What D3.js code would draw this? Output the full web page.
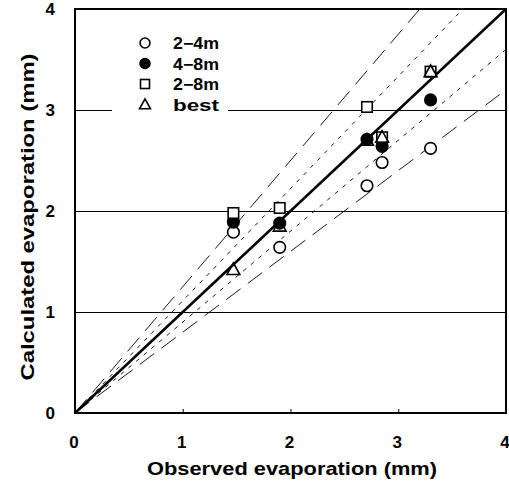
<!DOCTYPE html>
<html lang="en">
<head>
    <meta charset="UTF-8">
    <title>Evaporation</title>
    <style>
        body { margin: 0; background: #fff; }
        text { font-family: "Liberation Sans", Arial, sans-serif; font-weight: bold; fill: #000; }
    </style>
</head>
<body>
    <svg width="509" height="484"></svg>
    <script src="https://d3js.org/d3.v7.min.js"></script>
    <script>
        // observed values (x) shared by all series
        var observed = [1.47, 1.90, 2.71, 2.85, 3.30]
        var s24 = [1.79, 1.64, 2.25, 2.48, 2.62]
        var s48 = [1.89, 1.88, 2.71, 2.64, 3.10]
        var s28 = [1.98, 2.03, 3.03, 2.73, 3.38]
        var best = [1.42, 1.85, 2.70, 2.73, 3.38]
        var seriesNames = ['2\u22124m', '4\u22128m', '2\u22128m', 'best']
        var ticks = [0, 1, 2, 3, 4]
        // reference line slopes (calc = k * obs)
        var slopes = [1.25, 1.111, 1, 0.9, 0.8]

        var svg = d3.select('svg')
        var x = d3.scaleLinear().domain([0, 4]).range([75, 506])
        var y = d3.scaleLinear().domain([0, 4]).range([413, 9])

        // grid lines
        svg.selectAll('.grid').data([1, 2, 3]).enter().append('line')
            .attr('x1', x(0)).attr('x2', x(4))
            .attr('y1', d => y(d) + 0.5).attr('y2', d => y(d) + 0.5)
            .attr('stroke', '#000').attr('stroke-width', 1)
            .attr('shape-rendering', 'crispEdges')

        // inner ticks
        var ax = svg.append('g').attr('transform', 'translate(0,' + y(0) + ')')
            .call(d3.axisBottom(x).tickValues([1, 2, 3]).tickSize(-4).tickFormat(''))
        var ay = svg.append('g').attr('transform', 'translate(' + x(0) + ',0)')
            .call(d3.axisLeft(y).tickValues([1, 2, 3]).tickSize(-4).tickFormat(''))
        ax.select('.domain').remove()
        ay.select('.domain').remove()

        // legend background (gridline is broken behind legend)
        svg.append('rect').attr('x', 112).attr('y', 30).attr('width', 116).attr('height', 84).attr('fill', '#fff')

        // reference lines
        var dashes = ['18,9', '4,6', null, '4,6', '18,9']
        svg.selectAll('.ref').data(slopes).enter().append('line')
            .attr('x1', x(0)).attr('y1', y(0))
            .attr('x2', d => x(Math.min(4, 4 / d)))
            .attr('y2', d => y(Math.min(4, 4 / d) * d))
            .attr('stroke', '#000')
            .attr('stroke-width', (d, i) => i == 2 ? 2.5 : 0.9)
            .attr('stroke-dasharray', (d, i) => dashes[i])

        // frame
        svg.append('rect').attr('x', x(0)).attr('y', y(4))
            .attr('width', x(4) - x(0)).attr('height', y(0) - y(4))
            .attr('fill', 'none').attr('stroke', '#000').attr('stroke-width', 2)

        function marker(g, type, cx, cy, s) {
            if (type == 0 || type == 1) {
                g.append('circle').attr('cx', cx).attr('cy', cy).attr('r', s * 0.55)
                    .attr('fill', type == 1 ? '#000' : '#fff').attr('stroke', '#000').attr('stroke-width', 1.6)
            } else if (type == 2) {
                g.append('rect').attr('x', cx - s / 2).attr('y', cy - s / 2).attr('width', s).attr('height', s)
                    .attr('fill', '#fff').attr('stroke', '#000').attr('stroke-width', 1.6)
            } else {
                var h = s * 1.05
                g.append('path')
                    .attr('d', 'M' + cx + ',' + (cy - h * 0.6) + 'L' + (cx + h * 0.58) + ',' + (cy + h * 0.45) + 'L' + (cx - h * 0.58) + ',' + (cy + h * 0.45) + 'Z')
                    .attr('fill', 'none').attr('stroke', '#000').attr('stroke-width', 1.6)
            }
        }

        var allSeries = [s24, s48, s28, best]
        var pts = svg.append('g')
        allSeries.forEach(function (vals, t) {
            vals.forEach(function (v, i) {
                marker(pts, t, x(observed[i]), y(v), 10.5)
            })
        })

        // legend
        var leg = svg.append('g')
        seriesNames.forEach(function (n, i) {
            var ly = 43 + i * 20.5
            marker(leg, i, 145, ly, 9)
            leg.append('text').attr('x', 173).attr('y', ly + 6)
                .attr('font-size', 16).attr('textLength', 46).attr('lengthAdjust', 'spacingAndGlyphs').text(n)
        })

        // tick labels
        svg.selectAll('.xt').data(ticks).enter().append('text')
            .attr('x', d => x(d) - 1).attr('y', 448).attr('text-anchor', 'middle').attr('font-size', 17).text(d => d)
        svg.selectAll('.yt').data(ticks).enter().append('text')
            .attr('x', 55).attr('y', d => y(d) + 6).attr('text-anchor', 'end').attr('font-size', 17).text(d => d)

        // axis titles
        svg.append('text').attr('x', 292).attr('y', 475).attr('text-anchor', 'middle')
            .attr('font-size', 19).attr('textLength', 290).attr('lengthAdjust', 'spacingAndGlyphs')
            .text('Observed evaporation (mm)')
        svg.append('text').attr('transform', 'translate(34,217) rotate(-90)').attr('text-anchor', 'middle')
            .attr('font-size', 19).attr('textLength', 327).attr('lengthAdjust', 'spacingAndGlyphs')
            .text('Calculated evaporation (mm)')
    </script>
</body>
</html>
